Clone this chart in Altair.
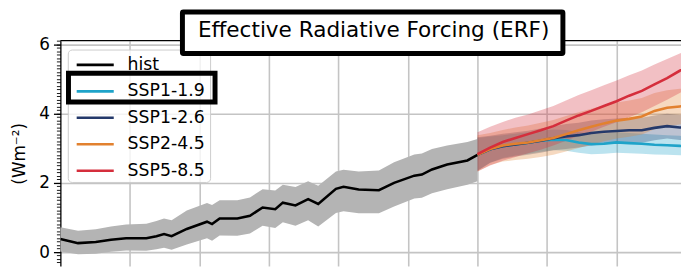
import altair as alt
import pandas as pd

# ---------------- data ----------------
series = ["hist", "SSP1-1.9", "SSP1-2.6", "SSP2-4.5", "SSP5-8.5"]
colors = ["#000000", "#1ea3c9", "#24396a", "#e2812f", "#d52e3c"]

hist_years = [1850, 1857, 1864, 1870, 1876, 1884, 1888, 1891, 1894, 1900, 1908, 1910,
              1913, 1920, 1925, 1930, 1935, 1938, 1943, 1948, 1952, 1959, 1962, 1968,
              1976, 1982, 1990, 1993, 1997, 2003, 2011, 2015]
hist_mean = [0.38, 0.26, 0.29, 0.36, 0.40, 0.40, 0.46, 0.52, 0.46, 0.67, 0.88, 0.81,
             0.97, 0.97, 1.05, 1.29, 1.24, 1.43, 1.35, 1.53, 1.39, 1.83, 1.89, 1.81,
             1.79, 2.00, 2.21, 2.24, 2.39, 2.53, 2.65, 2.81]
hist_hi = [0.72, 0.62, 0.66, 0.74, 0.80, 0.82, 0.90, 0.97, 0.92, 1.20, 1.42, 1.36,
           1.50, 1.50, 1.58, 1.82, 1.78, 1.95, 1.88, 2.05, 1.92, 2.33, 2.38, 2.33,
           2.36, 2.60, 2.82, 2.85, 2.98, 3.08, 3.18, 3.27]
hist_lo = [0.02, -0.06, -0.05, 0.01, 0.05, 0.04, 0.08, 0.13, 0.07, 0.22, 0.40, 0.33,
           0.48, 0.47, 0.54, 0.76, 0.70, 0.86, 0.76, 0.92, 0.74, 1.13, 1.18, 1.12,
           1.12, 1.32, 1.55, 1.57, 1.70, 1.82, 1.95, 2.05]

ssp_years = [2015, 2020, 2025, 2030, 2035, 2040, 2045, 2050, 2055, 2060, 2065, 2070,
             2075, 2080, 2085, 2090, 2095, 2100]
ssp119 = [2.81, 2.97, 3.06, 3.11, 3.16, 3.22, 3.25, 3.24, 3.17, 3.12, 3.13, 3.17,
          3.15, 3.13, 3.10, 3.09, 3.07, 3.05]
ssp119_hi = [3.30, 3.34, 3.38, 3.42, 3.46, 3.51, 3.54, 3.53, 3.47, 3.42, 3.43, 3.46,
             3.44, 3.42, 3.40, 3.38, 3.36, 3.34]
ssp119_lo = [2.35, 2.58, 2.72, 2.79, 2.84, 2.90, 2.94, 2.93, 2.87, 2.83, 2.84, 2.87,
             2.86, 2.84, 2.82, 2.81, 2.80, 2.78]
ssp126 = [2.81, 2.97, 3.06, 3.11, 3.16, 3.22, 3.29, 3.34, 3.38, 3.44, 3.48, 3.50,
          3.52, 3.52, 3.59, 3.64, 3.60, 3.60]
ssp126_hi = [3.32, 3.36, 3.42, 3.46, 3.51, 3.57, 3.64, 3.70, 3.74, 3.80, 3.84, 3.86,
             3.88, 3.88, 3.95, 4.00, 3.96, 3.96]
ssp126_lo = [2.35, 2.58, 2.70, 2.76, 2.81, 2.87, 2.94, 2.98, 3.02, 3.08, 3.12, 3.14,
             3.16, 3.16, 3.23, 3.28, 3.24, 3.24]
ssp245 = [2.81, 2.98, 3.08, 3.13, 3.17, 3.23, 3.30, 3.41, 3.52, 3.62, 3.72, 3.80,
          3.85, 3.92, 4.08, 4.17, 4.21, 4.25]
ssp245_hi = [3.38, 3.44, 3.53, 3.60, 3.66, 3.74, 3.82, 3.93, 4.04, 4.14, 4.24, 4.32,
             4.38, 4.45, 4.60, 4.68, 4.72, 4.76]
ssp245_lo = [2.33, 2.52, 2.62, 2.66, 2.70, 2.75, 2.81, 2.91, 3.01, 3.10, 3.20, 3.28,
             3.33, 3.40, 3.55, 3.64, 3.69, 3.72]
ssp585 = [2.83, 3.02, 3.18, 3.30, 3.41, 3.52, 3.64, 3.80, 3.95, 4.08, 4.22, 4.36,
          4.52, 4.66, 4.85, 5.03, 5.24, 5.40]
ssp585_hi = [3.46, 3.62, 3.76, 3.88, 3.98, 4.10, 4.22, 4.38, 4.54, 4.68, 4.82, 4.96,
             5.11, 5.25, 5.42, 5.58, 5.74, 5.90]
ssp585_lo = [2.33, 2.50, 2.64, 2.75, 2.86, 2.96, 3.08, 3.22, 3.36, 3.48, 3.62, 3.75,
             3.90, 4.04, 4.22, 4.40, 4.60, 4.76]

grid_years = [1877.5, 1905, 1932.5, 1960, 1987.5, 2015, 2042.5, 2070]
major_y = [0, 2, 4, 6]
minor_y = [round(i * 0.1, 1) for i in range(-3, 62)]

title_text = "Effective Radiative Forcing (ERF)"
y_title = "(Wm\u207b\u00b2)"

# ---------------- tables ----------------
hist_df = pd.DataFrame({"year": hist_years, "value": hist_mean, "lo": hist_lo,
                        "hi": hist_hi, "series": "hist"})
ssp_tabs = []
for name, m, lo, hi in [("SSP1-1.9", ssp119, ssp119_lo, ssp119_hi),
                        ("SSP1-2.6", ssp126, ssp126_lo, ssp126_hi),
                        ("SSP2-4.5", ssp245, ssp245_lo, ssp245_hi),
                        ("SSP5-8.5", ssp585, ssp585_lo, ssp585_hi)]:
    ssp_tabs.append(pd.DataFrame({"year": ssp_years, "value": m, "lo": lo, "hi": hi,
                                  "series": name}))
ssp_df = pd.concat(ssp_tabs, ignore_index=True)
all_df = pd.concat([hist_df, ssp_df], ignore_index=True)
all_df["order"] = all_df["series"].map({s: i for i, s in enumerate(series)})

W, H = 628, 228
FONT = "DejaVu Sans"

xs = alt.Scale(domain=[1850, 2095.5], nice=False, zero=False)
ys = alt.Scale(domain=[-0.4, 6.11], nice=False, zero=False)

x_axis = alt.Axis(values=grid_years, grid=True, labels=False, ticks=False, domain=False,
                  title=None, gridColor="#c4c4c4", gridWidth=1.6)
y_axis = alt.Axis(values=major_y, orient="left", grid=True, gridColor="#c4c4c4", gridWidth=1.6,
                  tickSize=7, tickWidth=1.3, tickColor="black", domainColor="black",
                  domainWidth=1.3, labelFontSize=17, labelFont=FONT, labelColor="black",
                  labelPadding=4, title=y_title, titleFont=FONT, titleFontSize=17,
                  titleFontWeight="normal", titleColor="black", titlePadding=10)
y_minor = alt.Axis(values=minor_y, orient="left", grid=False, labels=False, domain=False,
                   tickSize=4, tickWidth=0.9, tickColor="black", title=None)

X = alt.X("year:Q", scale=xs, axis=x_axis)

hist_band = alt.Chart(hist_df).mark_area(color="#b4b4b4").encode(
    x=X,
    y=alt.Y("lo:Q", scale=ys, axis=y_axis),
    y2="hi:Q",
)

minor_layer = alt.Chart(hist_df).mark_point(opacity=0).encode(
    x=X,
    y=alt.Y("value:Q", scale=ys, axis=y_minor),
)

ssp_band = alt.Chart(ssp_df).mark_area(opacity=0.3, clip=True).encode(
    x=X,
    y=alt.Y("lo:Q", scale=ys, axis=None),
    y2="hi:Q",
    fill=alt.Fill("series:N", scale=alt.Scale(domain=series[1:], range=colors[1:]),
                  legend=None),
)

lines = alt.Chart(all_df).mark_line(strokeWidth=2.6, clip=True).encode(
    x=X,
    y=alt.Y("value:Q", scale=ys, axis=None),
    stroke=alt.Stroke("series:N", scale=alt.Scale(domain=series, range=colors),
                      legend=alt.Legend(title=None, orient="none", legendX=8, legendY=8.5,
                                        symbolType="M-1,0H4", symbolSize=225,
                                        symbolStrokeWidth=2.6, labelFontSize=17.5,
                                        labelFont=FONT, labelColor="black",
                                        labelOffset=35, padding=7, rowPadding=8.8,
                                        strokeColor=None, fillColor=None)),
    order="order:Q",
)

one = pd.DataFrame({"k": [0]})

top_spine = alt.Chart(one).mark_rule(color="black", strokeWidth=1.3).encode(
    x=alt.value(0), x2=alt.value(W), y=alt.value(0))

legend_bg = alt.Chart(one).mark_rect(fill="white", fillOpacity=0.8, stroke="#cccccc",
                                     strokeWidth=1, cornerRadius=4).encode(
    x=alt.value(8), x2=alt.value(152), y=alt.value(9.5), y2=alt.value(143.5))

highlight = alt.Chart(one).mark_rect(fill=None, stroke="black", strokeWidth=5).encode(
    x=alt.value(8.2), x2=alt.value(156.5), y=alt.value(33), y2=alt.value(62))

title_box = alt.Chart(one).mark_rect(fill="white", stroke="black", strokeWidth=5,
                                     cornerRadius=1).encode(
    x=alt.value(123.5), x2=alt.value(508.5), y=alt.value(-29), y2=alt.value(13))

title_txt = alt.Chart(one).mark_text(text=title_text, font=FONT, fontSize=21.8,
                                     align="center", baseline="middle", color="black").encode(
    x=alt.value(317), y=alt.value(-10.5))

chart = alt.layer(
    hist_band, minor_layer, ssp_band, lines, top_spine, legend_bg, highlight,
    title_box, title_txt
).resolve_axis(y="independent").properties(
    width=W, height=H,
    autosize=alt.AutoSizeParams(type="none"),
    padding={"left": 53, "top": 31.5, "right": 0, "bottom": 0},
).configure_view(stroke=None)

chart.save("out.html", embed_options={"renderer": "svg", "actions": False})
